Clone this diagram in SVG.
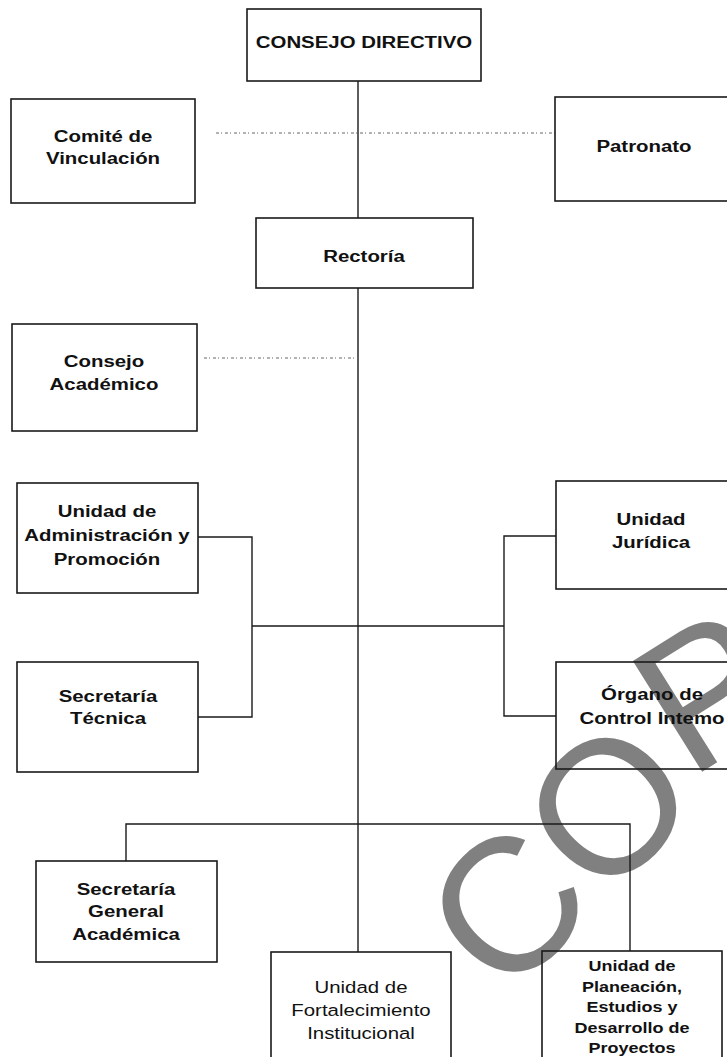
<svg xmlns="http://www.w3.org/2000/svg" width="727" height="1057" viewBox="0 0 727 1057">
<style>
.box{fill:none;stroke:#1a1a1a;stroke-width:1.6}
.ln{fill:none;stroke:#1a1a1a;stroke-width:1.4}
.dot{fill:none;stroke:#666;stroke-width:1;stroke-dasharray:3 2 1 3}
.t{font-family:"Liberation Sans",Arial,sans-serif;font-weight:bold;font-size:17px;fill:#111;text-anchor:middle}
.r{font-weight:normal}
.s{font-size:15px}
.wm{font-family:"Liberation Sans",Arial,sans-serif;font-size:190px;fill:#808080}
</style>
<rect width="727" height="1057" fill="#fff"/>
<g id="watermark">
<text class="wm" transform="translate(505,1002) rotate(-45)">CO</text>
<text class="wm" transform="translate(689,780) rotate(-32)">P</text>
</g>
<g id="connectors">
<path class="ln" d="M358,81V218M358,288V952"/>
<path class="dot" d="M216,133H555"/>
<path class="dot" d="M204,358H358"/>
<path class="ln" d="M198,537H252V717H198M252,626H504M556,536H504V716H556"/>
<path class="ln" d="M126,861V824H630V951"/>
</g>
<g id="consejo-directivo"><rect class="box" x="247" y="9" width="234" height="72"/>
<g transform="translate(364,0) scale(1.2,1)"><text class="t" x="0" y="48">CONSEJO DIRECTIVO</text></g></g>
<g id="comite"><rect class="box" x="11" y="99" width="184" height="104"/>
<g transform="translate(103,0) scale(1.2,1)"><text class="t" x="0" y="142">Comité de</text><text class="t" x="0" y="164">Vinculación</text></g></g>
<g id="patronato"><rect class="box" x="555" y="97" width="190" height="104"/>
<g transform="translate(644,0) scale(1.2,1)"><text class="t" x="0" y="152">Patronato</text></g></g>
<g id="rectoria"><rect class="box" x="256" y="218" width="217" height="70"/>
<g transform="translate(364,0) scale(1.2,1)"><text class="t" x="0" y="262">Rectoría</text></g></g>
<g id="consejo-academico"><rect class="box" x="12" y="324" width="185" height="107"/>
<g transform="translate(104,0) scale(1.2,1)"><text class="t" x="0" y="367">Consejo</text><text class="t" x="0" y="390">Académico</text></g></g>
<g id="administracion"><rect class="box" x="17" y="483" width="181" height="110"/>
<g transform="translate(107,0) scale(1.2,1)"><text class="t" x="0" y="517">Unidad de</text><text class="t" x="0" y="541">Administración y</text><text class="t" x="0" y="565">Promoción</text></g></g>
<g id="juridica"><rect class="box" x="556" y="481" width="190" height="108"/>
<g transform="translate(651,0) scale(1.2,1)"><text class="t" x="0" y="525">Unidad</text><text class="t" x="0" y="548">Jurídica</text></g></g>
<g id="secretaria-tecnica"><rect class="box" x="17" y="662" width="181" height="110"/>
<g transform="translate(108,0) scale(1.2,1)"><text class="t" x="0" y="702">Secretaría</text><text class="t" x="0" y="724">Técnica</text></g></g>
<g id="organo-control"><rect class="box" x="556" y="662" width="190" height="107"/>
<g transform="translate(652,0) scale(1.2,1)"><text class="t" x="0" y="700">Órgano de</text><text class="t" x="0" y="724">Control Intemo</text></g></g>
<g id="secretaria-general"><rect class="box" x="36" y="861" width="181" height="101"/>
<g transform="translate(126,0) scale(1.2,1)"><text class="t" x="0" y="895">Secretaría</text><text class="t" x="0" y="917">General</text><text class="t" x="0" y="940">Académica</text></g></g>
<g id="fortalecimiento"><rect class="box" x="271" y="952" width="180" height="120"/>
<g transform="translate(361,0) scale(1.2,1)"><text class="t r" x="0" y="993">Unidad de</text><text class="t r" x="0" y="1016">Fortalecimiento</text><text class="t r" x="0" y="1039">Institucional</text></g></g>
<g id="planeacion"><rect class="box" x="542" y="951" width="180" height="120"/>
<g transform="translate(632,0) scale(1.2,1)"><text class="t s" x="0" y="971">Unidad de</text><text class="t s" x="0" y="992">Planeación,</text><text class="t s" x="0" y="1012">Estudios y</text><text class="t s" x="0" y="1033">Desarrollo de</text><text class="t s" x="0" y="1053">Proyectos</text></g></g>
</svg>
